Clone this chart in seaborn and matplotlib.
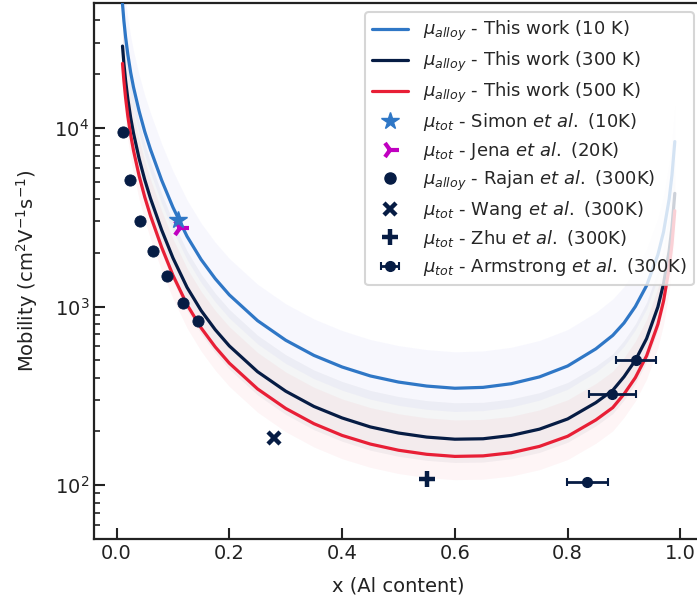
import numpy as np
import pandas as pd
import matplotlib
matplotlib.use("Agg")
import matplotlib.pyplot as plt
import seaborn as sns

# ---------------- data ----------------
x_al = [0.0105, 0.013, 0.016, 0.02, 0.025, 0.03, 0.04, 0.05, 0.06, 0.08, 0.10,
        0.125, 0.15, 0.175, 0.20, 0.25, 0.30, 0.35, 0.40, 0.45, 0.50, 0.55,
        0.60, 0.65, 0.70, 0.75, 0.80, 0.85, 0.88, 0.90, 0.92, 0.94, 0.96,
        0.97, 0.98, 0.985, 0.99]
mu_10K = [49400, 39600, 32200, 25700, 20400, 16900, 12400, 9520, 7600, 5090, 3590,
          2470, 1832, 1432, 1162, 834, 648, 533, 459, 409, 378, 359,
          349, 353, 370, 404, 465, 580, 690, 810, 1000, 1311, 1950,
          2613, 3998, 5440, 8385]
mu_300K = [28700, 22900, 18400, 14500, 11400, 9350, 6730, 5120, 4040, 2680, 1870,
           1280, 949, 742, 602, 432, 336, 276, 238, 212, 196, 186,
           181, 182, 190, 206, 235, 290, 340, 405, 500, 662, 995,
           1340, 2050, 2790, 4300]
mu_500K = [22960, 18320, 14720, 11600, 9120, 7480, 5384, 4096, 3232, 2144, 1496,
           1024, 759, 594, 482, 346, 269, 221, 190, 170, 157, 149,
           145, 146, 152, 165, 188, 232, 272, 324, 400, 530, 796,
           1072, 1640, 2232, 3440]

simon_x, simon_y = [0.109], [3050]
jena_x, jena_y = [0.112], [2750]
rajan_x = [0.0105, 0.024, 0.042, 0.064, 0.090, 0.1175, 0.144]
rajan_y = [9440, 5080, 3010, 2050, 1486, 1041, 828]
wang_x, wang_y = [0.28], [183]
zhu_x, zhu_y = [0.55], [108]
arm_x = [0.921, 0.879, 0.835]
arm_y = [505, 323, 104]
arm_xerr = [0.036, 0.042, 0.036]

line_labels = [r"$\mu_{alloy}$ - This work (10 K)",
               r"$\mu_{alloy}$ - This work (300 K)",
               r"$\mu_{alloy}$ - This work (500 K)"]
point_labels = [r"$\mu_{tot}$ - Simon $et\ al.$ (10K)",
                r"$\mu_{tot}$ - Jena $et\ al.$ (20K)",
                r"$\mu_{alloy}$ - Rajan $et\ al.$ (300K)",
                r"$\mu_{tot}$ - Wang $et\ al.$ (300K)",
                r"$\mu_{tot}$ - Zhu $et\ al.$ (300K)",
                r"$\mu_{tot}$ - Armstrong $et\ al.$ (300K)"]

# ---------------- style ----------------
sns.set_theme(style="ticks")
plt.rcParams['font.family'] = ['DejaVu Sans']
plt.rcParams['mathtext.fontset'] = 'dejavusans'

C_BLUE = '#2f77c6'
C_NAVY = '#061c44'
C_RED = '#e81f36'
C_MAG = '#c000c0'
BAND_LO, BAND_HI = 1 / 1.35, 1.6

fig = plt.figure(figsize=(6.97, 6.03), dpi=100)
ax = fig.add_axes([0.1349, 0.1061, 0.8737, 0.8889])

df = pd.DataFrame({'x': x_al, '10K': mu_10K, '300K': mu_300K, '500K': mu_500K})

band_cols = {'10K': '#5a5ae6', '300K': C_NAVY, '500K': C_RED}
line_cols = {'10K': C_BLUE, '300K': C_NAVY, '500K': C_RED}
for key in ['10K', '300K', '500K']:
    vals = df[key].to_numpy(dtype=float)
    ax.fill_between(df['x'], vals * BAND_LO, vals * BAND_HI,
                    color=band_cols[key], alpha=0.045, lw=0, zorder=1)

handles = []
for key in ['10K', '300K', '500K']:
    sns.lineplot(data=df, x='x', y=key, ax=ax, color=line_cols[key], lw=2.3,
                 zorder=3, legend=False)
    handles.append(ax.lines[-1])

# experimental data
h = ax.plot(simon_x, simon_y, ls='none', marker='*', ms=13, color=C_BLUE,
            mec=C_BLUE, zorder=5)[0]
handles.append(h)
h = ax.plot(jena_x, jena_y, ls='none', marker='4', ms=13, mew=3,
            color=C_MAG, zorder=4)[0]
handles.append(h)
sns.scatterplot(x=rajan_x, y=rajan_y, ax=ax, color=C_NAVY, s=65,
                edgecolor=C_NAVY, zorder=5, legend=False)
h = ax.plot([], [], ls='none', marker='o', ms=8, color=C_NAVY)[0]
handles.append(h)
h = ax.plot(wang_x, wang_y, ls='none', marker='x', ms=9, mew=3.2,
            color=C_NAVY, zorder=5)[0]
handles.append(h)
h = ax.plot(zhu_x, zhu_y, ls='none', marker='+', ms=12, mew=3.2,
            color=C_NAVY, zorder=5)[0]
handles.append(h)
h = ax.errorbar(arm_x, arm_y, xerr=arm_xerr, fmt='o', ms=7, color=C_NAVY,
                elinewidth=2, capsize=3, capthick=1.5, zorder=6)
handles.append(h)

ax.set_yscale('log')
ax.set_xlim(-0.04, 1.04)
ax.set_ylim(50, 5e4)
ax.set_xticks([0.0, 0.2, 0.4, 0.6, 0.8, 1.0])
ax.set_xlabel('x (Al content)', fontsize=14, color='#222222', labelpad=10)
ax.set_ylabel(r'Mobility (cm$^2$V$^{-1}$s$^{-1}$)', fontsize=14,
              color='#222222', labelpad=10)

ax.tick_params(axis='both', which='major', direction='in', length=8, width=1.5,
               labelsize=14, colors='#222222', top=False, right=False)
ax.tick_params(axis='y', which='minor', direction='in', length=4, width=1.2,
               colors='#222222')
ax.tick_params(axis='x', which='minor', bottom=False, top=False)
for sp in ax.spines.values():
    sp.set_linewidth(1.6)
    sp.set_color('#222222')
    sp.set_visible(True)

leg = ax.legend(handles, line_labels + point_labels, loc='upper right',
                fontsize=13, frameon=True, framealpha=0.8, edgecolor='#cccccc',
                fancybox=True, borderaxespad=0.5, handlelength=2.0,
                labelspacing=0.36)
leg.get_frame().set_linewidth(1.5)

fig.savefig('out.png', dpi=100)
